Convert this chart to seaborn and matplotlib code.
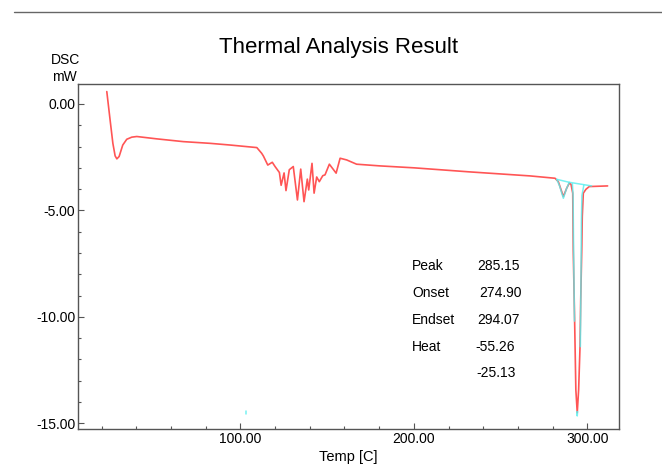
import matplotlib
matplotlib.use('Agg')
import matplotlib.pyplot as plt
from matplotlib.lines import Line2D
from matplotlib.ticker import MultipleLocator, FormatStrFormatter
import seaborn as sns

# DSC curve (red)
temp = [23.0, 24.9, 26.5, 27.8, 28.8, 30.1, 32.2, 34.5, 37.4, 40.3,
        51.8, 67.1, 82.5, 94.1, 109.5, 112.3, 113.3, 115.8, 118.4, 120.0,
        122.5, 123.5, 125.2, 126.3, 128.2, 130.5, 132.9, 134.8, 136.7, 138.6,
        139.4, 141.3, 142.5, 144.0, 145.5, 147.5, 148.8, 151.3, 155.2, 157.5,
        161.3, 167.0, 180.5, 200.0, 232.0, 267.0, 281.4, 283.3, 286.2, 288.1,
        289.6, 290.6, 291.6, 291.9, 292.7, 293.4, 294.2, 295.0, 295.8, 296.2,
        296.8, 297.1, 297.7, 299.2, 301.1, 311.7]
dsc = [0.58, -0.75, -1.85, -2.44, -2.58, -2.47, -1.93, -1.66, -1.56, -1.53,
       -1.64, -1.77, -1.85, -1.93, -2.05, -2.32, -2.45, -2.87, -2.74, -2.94,
       -3.22, -3.82, -3.24, -4.07, -3.09, -2.94, -4.51, -3.06, -4.59, -3.53,
       -4.04, -2.79, -4.19, -3.43, -3.65, -3.37, -3.33, -2.83, -3.25, -2.55,
       -2.63, -2.83, -2.91, -3.00, -3.19, -3.38, -3.49, -3.65, -4.35, -3.96,
       -3.72, -3.77, -4.19, -6.86, -10.22, -13.43, -14.50, -13.43, -11.40, -9.20,
       -6.86, -5.29, -4.19, -4.01, -3.88, -3.85]

# peak analysis overlays (cyan)
base_temp = [282.4, 289.6, 302.5]
base_dsc = [-3.54, -3.68, -3.85]
small_temp = [282.4, 284.0, 286.2, 288.1, 289.6]
small_dsc = [-3.54, -3.85, -4.43, -3.96, -3.68]
left_temp = [291.4, 291.8, 292.1, 292.6]
left_dsc = [-3.75, -4.30, -6.86, -10.20]
right_temp = [296.0, 296.4, 296.6, 296.9, 298.0]
right_dsc = [-11.40, -8.00, -5.50, -4.30, -3.82]
tip_temp = [294.0, 294.2, 294.4]
tip_dsc = [-14.45, -14.65, -14.45]
mark_temp = [103.4, 103.4]
mark_dsc = [-14.42, -14.57]

result_names = ['Peak', 'Onset', 'Endset', 'Heat', '']
result_values = ['285.15', '274.90', '294.07', '-55.26', '-25.13']
value_x = [477, 479, 477, 475, 476]
row_y = [266, 293, 320, 347, 373]

sns.set_style('white')
plt.rcParams['font.family'] = ['Liberation Sans', 'DejaVu Sans']
plt.rcParams['text.color'] = 'black'
plt.rcParams['axes.labelcolor'] = 'black'

fig = plt.figure(figsize=(6.62, 4.70), dpi=100)
ax = fig.add_axes([78 / 662, 1 - 428.7 / 470, (618.7 - 78) / 662, 345 / 470])

red = '#ff5555'
cyan = '#55eeee'
sns.lineplot(x=temp, y=dsc, sort=False, estimator=None, ax=ax, color=red, lw=1.2)
for xs, ys in [(base_temp, base_dsc), (small_temp, small_dsc), (left_temp, left_dsc),
               (right_temp, right_dsc), (tip_temp, tip_dsc), (mark_temp, mark_dsc)]:
    sns.lineplot(x=xs, y=ys, sort=False, estimator=None, ax=ax, color=cyan, lw=1.1, alpha=0.8)

ax.set_xlim(6.4, 318.1)
ax.set_ylim(-15.25, 0.95)
ax.xaxis.set_major_locator(MultipleLocator(100))
ax.xaxis.set_minor_locator(MultipleLocator(20))
ax.yaxis.set_major_locator(MultipleLocator(5))
ax.yaxis.set_minor_locator(MultipleLocator(1))
ax.xaxis.set_major_formatter(FormatStrFormatter('%.2f'))
ax.yaxis.set_major_formatter(FormatStrFormatter('%.2f'))
ax.tick_params(which='both', bottom=True, left=True, top=False, right=False)
ax.tick_params(which='major', direction='in', length=4, width=0.8, color='#555555',
               labelsize=10, labelcolor='black', pad=2.5)
ax.tick_params(which='minor', direction='in', length=2.5, width=0.8, color='#555555')
ax.tick_params(axis='y', which='major', pad=2)
for s in ax.spines.values():
    s.set_color('#555555')
    s.set_linewidth(1)

ax.set_xlabel('Temp [C]', fontsize=10.5, labelpad=3)
ax.set_ylabel('')

fig.text(339 / 662, 1 - 47 / 470, 'Thermal Analysis Result', fontsize=16, ha='center', va='center')
fig.text(66 / 662, 1 - 60 / 470, 'DSC', fontsize=10, ha='center', va='center')
fig.text(64.5 / 662, 1 - 77 / 470, 'mW', fontsize=10, ha='center', va='center')

for name, val, vx, ry in zip(result_names, result_values, value_x, row_y):
    fig.text(412 / 662, 1 - ry / 470, name, fontsize=10, ha='left', va='center')
    fig.text(vx / 662, 1 - ry / 470, val, fontsize=10, ha='left', va='center')

fig.add_artist(Line2D([14 / 662, 1.0], [1 - 12 / 470, 1 - 12 / 470],
                      transform=fig.transFigure, color='#666666', lw=1))

fig.savefig('out.png', dpi=100)
